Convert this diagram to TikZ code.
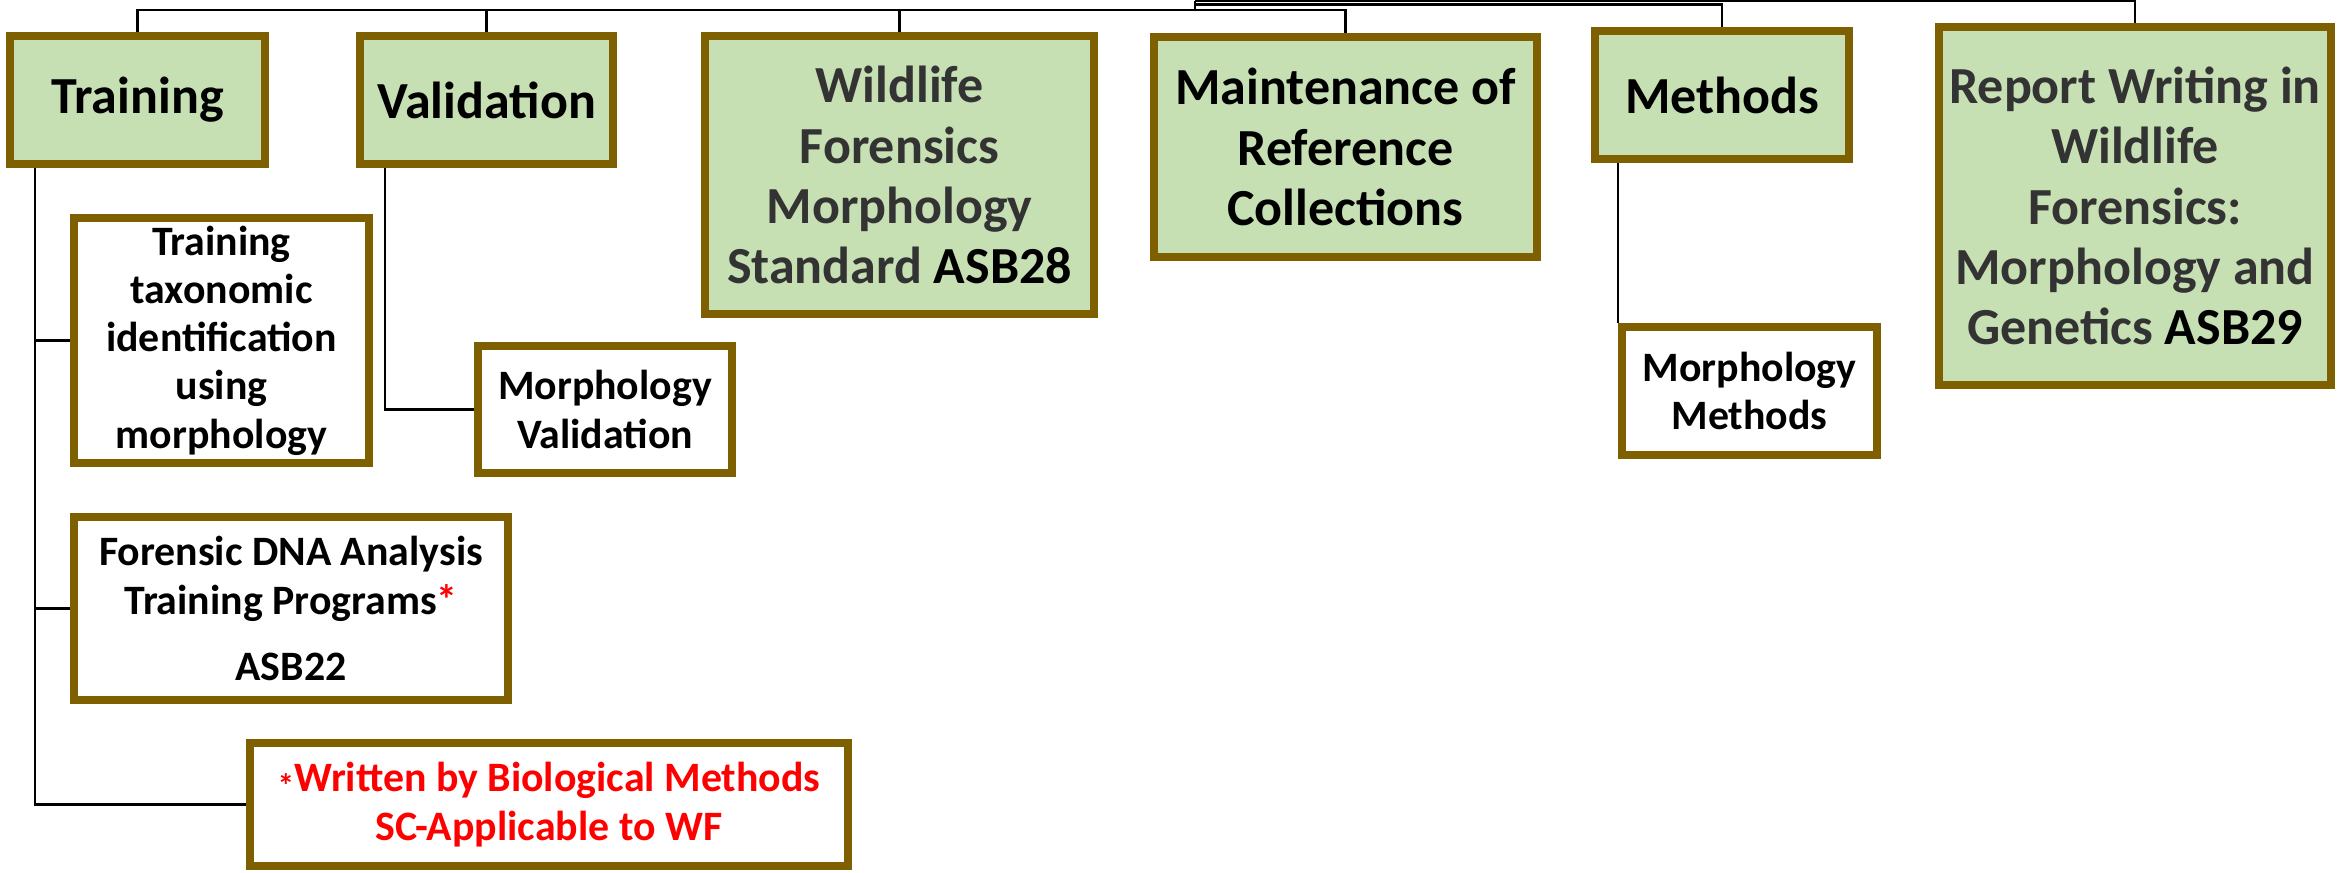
\documentclass[tikz,border=0pt]{standalone}
\usepackage{fontspec}
\setmainfont{Carlito}
\usetikzlibrary{calc}
\definecolor{boxfill}{HTML}{C6E0B4}
\definecolor{boxedge}{HTML}{7F6000}
\definecolor{darktext}{HTML}{333333}
\definecolor{notered}{HTML}{FF0000}
\newcommand{\bigfont}{\fontsize{14.8}{17.1}\selectfont\bfseries}
\newcommand{\smallfont}{\fontsize{11.9}{13.7}\selectfont\bfseries}
\begin{document}
\begin{tikzpicture}[x=0.01cm,y=-0.01cm]
    \tikzstyle{every node}=[draw=boxedge,line width=0.8mm,align=center,inner sep=0pt];
    \tikzstyle{topbox}=[fill=boxfill,font=\bigfont];
    \tikzstyle{subbox}=[fill=white,font=\smallfont];
    \tikzstyle{wire}=[draw=black,line width=0.7pt];
    \useasboundingbox (0, 0) rectangle (2343, 872);

    \node at (137.5, 100)  (train) [topbox,minimum width=2.55cm,minimum height=1.28cm] {Training};
    \node at (486.5, 100)  (valid) [topbox,minimum width=2.53cm,minimum height=1.28cm] {Validation};
    \node at (899.5, 175)  (wild)  [topbox,minimum width=3.89cm,minimum height=2.78cm,text=darktext]
        {Wildlife\\Forensics\\Morphology\\Standard \textcolor{black}{ASB28}};
    \node at (1345.5, 147) (maint) [topbox,minimum width=3.83cm,minimum height=2.20cm]
        {Maintenance of\\Reference\\Collections};
    \node at (1722, 95)    (meth)  [topbox,minimum width=2.54cm,minimum height=1.28cm] {Methods};
    \node at (2135, 206)   (rep)   [topbox,minimum width=3.92cm,minimum height=3.58cm,text=darktext]
        {Report Writing in\\Wildlife\\Forensics:\\Morphology and\\Genetics \textcolor{black}{ASB29}};

    \node at (221.5, 340.5) (taxo)  [subbox,minimum width=2.95cm,minimum height=2.45cm]
        {Training\\taxonomic\\identification\\using\\morphology};
    \node at (605, 409.5)   (mval)  [subbox,minimum width=2.54cm,minimum height=1.27cm]
        {Morphology\\Validation};
    \node at (291, 608.5)   (dna)   [subbox,minimum width=4.34cm,minimum height=1.83cm]
        {Forensic DNA Analysis\\Training Programs\textcolor{notered}{*}\\[0.18cm]ASB22};
    \node at (549, 804.5)   (note)  [subbox,minimum width=5.98cm,minimum height=1.23cm,text=notered]
        {\raisebox{-0.3ex}{\fontsize{9.5}{9.5}\selectfont *}Written by Biological Methods\\SC-Applicable to WF};
    \node at (1749.5, 391)  (mmeth) [subbox,minimum width=2.55cm,minimum height=1.28cm]
        {Morphology\\Methods};

    % top branches
    \coordinate (hubA) at (1195, 10);
    \coordinate (hubB) at (1195, 4.5);
    \coordinate (hubC) at (1195, 1);
    \draw[wire,line width=0.6pt] (hubC) -- (hubA);
    \draw[wire,line width=0.6pt] (hubA) -| (train.north);
    \draw[wire,line width=0.6pt] (hubA) -| (valid.north);
    \draw[wire,line width=0.6pt] (hubA) -| (wild.north);
    \draw[wire,line width=0.6pt] (hubA) -| (maint.north);
    \draw[wire,line width=0.6pt] (hubB) -| (meth.north);
    \draw[wire,line width=0.6pt] (hubC) -| (rep.north);

    % sub branches
    \draw[wire] ($(train.south west)+(29,0)$) |- (taxo.west);
    \draw[wire] ($(train.south west)+(29,0)$) |- (dna.west);
    \draw[wire] ($(train.south west)+(29,0)$) |- (note.west);
    \draw[wire] ($(valid.south west)+(29,0)$) |- (mval.west);
    \draw[wire] (meth.south -| mmeth.north west) -- (mmeth.north west);
\end{tikzpicture}
\end{document}
